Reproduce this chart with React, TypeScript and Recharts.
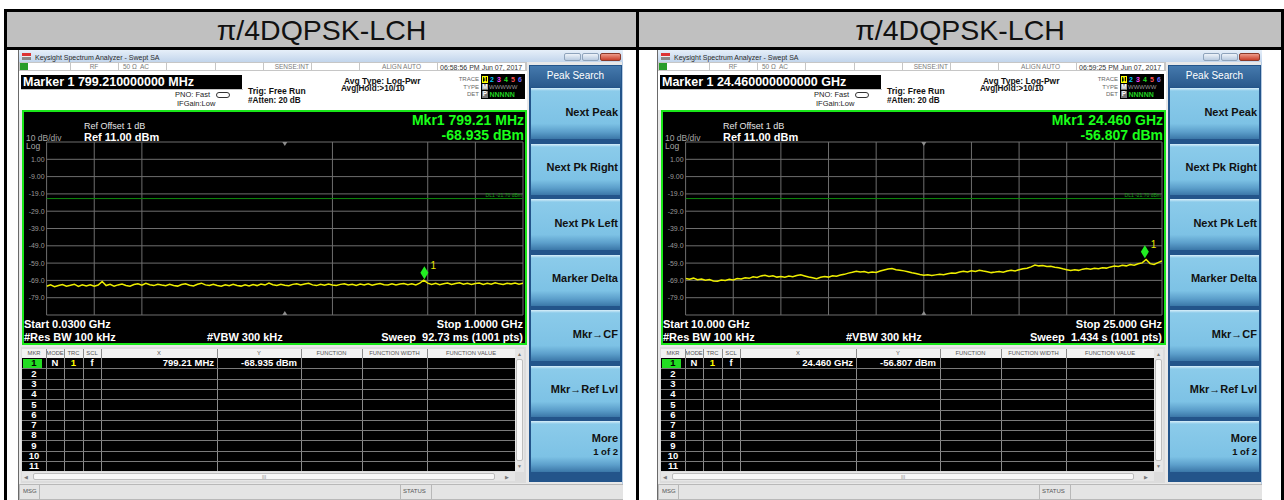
import React from "react";
import {
  LineChart,
  Line,
  XAxis,
  YAxis,
  CartesianGrid,
  ReferenceLine,
  ReferenceDot,
} from "recharts";

// ---- data ----
const titles = ["π/4DQPSK-LCH", "π/4DQPSK-LCH"];

const refLevel = 11;
const bottomLevel = -89;
const yTicks = [11, 1, -9, -19, -29, -39, -49, -59, -69, -79, -89];
const displayLine = -21.7;

const leftStart = 0.03; // GHz
const leftStop = 1.0;
const leftTrace = [
  -72.4, -71.6, -72.6, -71.9, -71.4, -72.3, -71.8, -71.2, -72.5, -71.6,
  -72.2, -71.5, -72.4, -71.7, -69.6, -72.0, -71.3, -72.3, -71.6, -71.1,
  -71.9, -72.4, -71.4, -71.0, -71.8, -70.7, -71.5, -72.0, -71.2, -71.7,
  -72.1, -71.3, -71.9, -72.3, -71.4, -71.0, -71.8, -72.2, -71.2, -70.6,
  -71.6, -72.0, -71.3, -71.9, -72.4, -71.5, -72.1, -71.3, -71.9, -72.3,
  -71.6, -72.2, -71.4, -72.0, -71.1, -71.7, -70.5, -71.5, -71.9, -71.2,
  -71.8, -72.1, -71.3, -71.0, -71.7, -71.1, -70.7, -71.6, -72.0, -71.2,
  -71.8, -71.1, -71.6, -72.0, -71.3, -70.9, -71.7, -71.2, -71.9, -71.1,
  -71.6, -71.0, -71.8, -71.2, -70.8, -71.5, -71.7, -71.0, -71.6, -71.1,
  -70.8, -71.5, -71.0, -71.6, -70.6, -68.9, -70.6, -71.3, -70.7, -71.5,
  -70.9, -70.5, -71.4, -70.8, -70.4, -71.2, -70.7, -71.4, -70.8, -70.5,
  -71.3, -70.7, -71.2, -70.4, -71.0, -71.4, -70.6, -71.1, -70.5, -71.2, -70.7,
];
const leftMarker = { f: 0.79921, v: -68.935 };

const rightStart = 10; // GHz
const rightStop = 25;
const rightTrace = [
  -67.9, -68.3, -67.7, -68.6, -68.2, -68.9, -68.5, -69.3, -69.5, -68.8,
  -69.1, -68.4, -68.7, -67.9, -68.2, -67.5, -67.8, -66.9, -67.3, -66.4,
  -66.0, -66.7, -66.3, -67.1, -66.8, -67.2, -66.5, -66.9, -66.2, -65.8,
  -66.4, -67.0, -67.5, -68.0, -67.2, -66.8, -67.1, -66.3, -66.6, -65.9,
  -65.5, -64.8, -64.3, -63.7, -64.2, -63.9, -64.5, -64.1, -64.4, -63.6,
  -63.0, -62.4, -62.1, -62.8, -63.1, -63.5, -64.0, -64.6, -65.0, -65.6,
  -66.0, -65.7, -66.2, -65.8, -65.4, -65.7, -65.1, -64.7, -64.9, -64.2,
  -63.7, -64.1, -63.5, -63.9, -63.1, -63.6, -64.0, -64.5, -64.2, -63.8,
  -64.3, -63.6, -63.1, -63.5, -62.8, -62.3, -62.0, -61.2, -60.1, -60.6,
  -60.4, -61.0, -60.8, -61.4, -61.7, -62.3, -62.8, -63.3, -62.9, -63.2,
  -62.5, -62.1, -62.6, -62.0, -62.3, -61.7, -61.9, -61.2, -60.7, -61.0,
  -60.3, -60.6, -59.8, -60.2, -59.4, -58.9, -56.9, -59.3, -59.8, -58.7, -57.8,
];
const rightMarker = { f: 24.46, v: -56.807 };

const softkeys = [
  "Next Peak",
  "Next Pk Right",
  "Next Pk Left",
  "Marker Delta",
  "Mkr→CF",
  "Mkr→Ref Lvl",
];
const tableHeaders = ["MKR", "MODE", "TRC", "SCL", "X", "Y", "FUNCTION", "FUNCTION WIDTH", "FUNCTION VALUE"];
const tableCols = [3, 27, 45, 64, 82, 198, 282, 343, 408, 496];
const markerRows = [1, 2, 3, 4, 5, 6, 7, 8, 9, 10, 11];
const traceNums = ["1", "2", "3", "4", "5", "6"];
const traceColors = ["#ffff00", "#00c8ff", "#ff40ff", "#22dd22", "#ff5050", "#6b6bff"];

const FONT = '"Liberation Sans", Arial, sans-serif';

type TP = {
  x: number;
  y: number;
  s: number;
  c?: string;
  b?: boolean;
  a?: "start" | "middle" | "end";
  children: React.ReactNode;
};

function T({ x, y, s, c = "#000", b = false, a = "start", children }: TP) {
  const tx = a === "end" ? "-100%" : a === "middle" ? "-50%" : "0";
  return (
    <div
      style={{
        position: "absolute",
        left: x,
        top: y,
        transform: `translate(${tx}, -50%)`,
        fontSize: s,
        lineHeight: 1,
        color: c,
        fontWeight: b ? 700 : 400,
        whiteSpace: "pre",
        fontFamily: FONT,
      }}
    >
      {children}
    </div>
  );
}

function Box({ x, y, w, h, bg, border, r }: any) {
  return (
    <div
      style={{
        position: "absolute",
        left: x,
        top: y,
        width: w,
        height: h,
        background: bg,
        border,
        borderRadius: r,
        boxSizing: "border-box",
      }}
    />
  );
}

const fmtLevel = (v: number) => (Math.abs(v) < 10 ? v.toFixed(2) : v.toFixed(1));

function YTick(props: any) {
  const { x, y, payload } = props;
  const v = payload.value;
  if (v === refLevel || v === bottomLevel) return <g />;
  return (
    <text x={x} y={y} textAnchor="end" dominantBaseline="central" fontSize={7} fill="#9a9a9a" fontFamily={FONT}>
      {fmtLevel(v)}
    </text>
  );
}

function MarkerShape(props: any) {
  const { cx, cy } = props;
  return (
    <g>
      <polygon
        points={`${cx},${cy - 1} ${cx + 4},${cy - 7.5} ${cx},${cy - 14} ${cx - 4},${cy - 7.5}`}
        fill="#22ee22"
      />
      <text x={cx + 6} y={cy - 11} fill="#e8e800" fontSize={10} fontFamily={FONT}>
        1
      </text>
    </g>
  );
}

const TopTri = (p: any) => (
  <polygon points={`${p.cx - 2.5},${p.cy} ${p.cx + 2.5},${p.cy} ${p.cx},${p.cy + 4}`} fill="#8c8c8c" />
);
const BotTri = (p: any) => (
  <polygon points={`${p.cx - 2.5},${p.cy} ${p.cx + 2.5},${p.cy} ${p.cx},${p.cy - 4}`} fill="#8c8c8c" />
);

function DLLabel(p: any) {
  const vb = p.viewBox || {};
  return (
    <text x={vb.x + vb.width - 1} y={vb.y - 1.5} textAnchor="end" fontSize={5} fill="#1aa01a" fontFamily={FONT}>
      DL1 -21.70 dBm
    </text>
  );
}

type ShotProps = {
  left: number;
  time: string;
  markerTitle: string;
  mkrFreq: string;
  mkrAmp: string;
  startLabel: string;
  stopLabel: string;
  sweepLabel: string;
  xValue: string;
  start: number;
  stop: number;
  trace: number[];
  marker: { f: number; v: number };
};

function Shot(p: ShotProps) {
  const data = p.trace.map((v, i) => ({
    f: p.start + (i * (p.stop - p.start)) / (p.trace.length - 1),
    v,
  }));
  const xTicks = Array.from({ length: 11 }, (_, k) => p.start + (k * (p.stop - p.start)) / 10);
  const center = (p.start + p.stop) / 2;
  const rowH = 10.3;

  return (
    <div
      style={{
        position: "absolute",
        left: p.left,
        top: 50,
        width: 605,
        height: 450,
        background: "#e8e8e8",
        overflow: "hidden",
        borderLeft: "1px solid #6a6a6a",
        boxSizing: "border-box",
      }}
    >
      {/* window title bar */}
      <Box x={0} y={0} w={605} h={12} bg="linear-gradient(#e6eff9, #c2d5ec)" />
      <Box x={3} y={3} w={9} h={7} bg="linear-gradient(#d33 0 45%, #eee 45% 60%, #888 60%)" />
      <T x={16} y={6.5} s={7} c="#2b2b2b">Keysight Spectrum Analyzer - Swept SA</T>
      <Box x={545} y={3} w={17} h={8} bg="linear-gradient(#eef3f9,#b9cbe0)" border="1px solid #8ea3bb" r={2} />
      <Box x={563} y={3} w={17} h={8} bg="linear-gradient(#eef3f9,#b9cbe0)" border="1px solid #8ea3bb" r={2} />
      <Box x={581} y={3} w={21} h={8} bg="linear-gradient(#ef9a88,#c8412c)" border="1px solid #8a3a2a" r={2} />
      <Box x={603} y={12} w={2} h={438} bg="#b6cbe2" />

      {/* status row + info area */}
      <Box x={0} y={12} w={508} h={48} bg="#ffffff" />
      <Box x={0} y={12} w={508} h={9} border="1px solid #c6c6c6" />
      {[51, 99, 147, 196, 244, 292, 340, 418, 506].map((cx) => (
        <Box key={cx} x={cx} y={12} w={1} h={9} bg="#c6c6c6" />
      ))}
      <Box x={1} y={13} w={8} h={7} bg="#2a9d2a" />
      <T x={75} y={16.5} s={6.5} c="#7a7a7a" a="middle">RF</T>
      <T x={104} y={16.5} s={6.5} c="#7a7a7a">50 Ω</T>
      <T x={121} y={16.5} s={6.5} c="#7a7a7a">AC</T>
      <T x={290} y={16.5} s={6.5} c="#7a7a7a" a="end">SENSE:INT</T>
      <T x={402} y={16.5} s={6.5} c="#7a7a7a" a="end">ALIGN AUTO</T>
      <T x={421} y={16.5} s={7} c="#333">{p.time}</T>

      <Box x={2} y={25} w={221} h={14} bg="#000" />
      <T x={4} y={32} s={12.5} c="#fff" b>{p.markerTitle}</T>
      <Box x={2} y={39} w={222} h={1} bg="#c6c6c6" />

      <T x={191} y={45} s={7.5} c="#222" a="end">PNO: Fast</T>
      <Box x={197} y={41.5} w={14} h={6} border="1px solid #333" r={3} />
      <T x={158} y={53.5} s={7.5} c="#222">IFGain:Low</T>
      <T x={229} y={41} s={8.5} c="#111" b>Trig: Free Run</T>
      <T x={229} y={51} s={8.2} c="#111" b>#Atten: 20 dB</T>
      <T x={325} y={30.5} s={8.5} c="#111" b>Avg Type: Log-Pwr</T>
      <T x={322} y={39} s={8.2} c="#111" b>Avg|Hold:&gt;10/10</T>

      <T x={460} y={29} s={6} c="#666" a="end">TRACE</T>
      <T x={460} y={36.5} s={6} c="#666" a="end">TYPE</T>
      <T x={460} y={44} s={6} c="#666" a="end">DET</T>
      <Box x={462} y={24} w={44} h={25} bg="#000" />
      <Box x={463} y={25.5} w={6} h={7} border="1px solid #ffff00" />
      {traceNums.map((n, j) => (
        <T key={n} x={466 + j * 7} y={29.2} s={7} c={traceColors[j]} b a="middle">{n}</T>
      ))}
      <Box x={463} y={33.5} w={6} h={6.5} bg="#777" />
      <T x={466} y={36.8} s={6.5} c="#fff" b a="middle">M</T>
      <T x={470} y={36.8} s={6} c="#9a9a9a">WWWWW</T>
      <Box x={463} y={41} w={6} h={6.5} bg="#777" />
      <T x={466} y={44.3} s={6.5} c="#fff" b a="middle">P</T>
      <T x={470.5} y={44.3} s={7} c="#20d020" b>NNNNN</T>

      {/* plot area */}
      <Box x={3} y={60} w={505} h={235} bg="#000" border="2px solid #19e619" />
      <T x={65} y={76} s={9} c="#e6e6e6">Ref Offset 1 dB</T>
      <T x={65} y={86.5} s={11} c="#fff" b>Ref 11.00 dBm</T>
      <T x={7} y={88} s={8.5} c="#a6a6a6">10 dB/div</T>
      <T x={7} y={96} s={8.5} c="#a6a6a6">Log</T>
      <T x={505} y={69.7} s={14} c="#1aff1a" b a="end">{p.mkrFreq}</T>
      <T x={505} y={85.3} s={14} c="#1aff1a" b a="end">{p.mkrAmp}</T>

      <div style={{ position: "absolute", left: 5, top: 88 }}>
        <LineChart width={501} height={181} data={data} margin={{ top: 4, right: 2, bottom: 4, left: 0 }}>
          <CartesianGrid stroke="#6e6e6e" strokeWidth={1} />
          <XAxis dataKey="f" type="number" domain={[p.start, p.stop]} ticks={xTicks} hide allowDataOverflow />
          <YAxis
            type="number"
            domain={[bottomLevel, refLevel]}
            ticks={yTicks}
            interval={0}
            width={22.6}
            tickSize={0}
            tickMargin={2}
            axisLine={false}
            tickLine={false}
            tick={YTick}
            allowDataOverflow
          />
          <ReferenceLine y={displayLine} stroke="#0e8a0e" strokeWidth={1} label={DLLabel} />
          <Line
            type="linear"
            dataKey="v"
            stroke="#eeee00"
            strokeWidth={1.5}
            dot={false}
            isAnimationActive={false}
          />
          <ReferenceDot x={center} y={refLevel} r={0} shape={TopTri} />
          <ReferenceDot x={center} y={bottomLevel} r={0} shape={BotTri} />
          <ReferenceDot x={p.marker.f} y={p.marker.v} r={0} shape={MarkerShape} />
        </LineChart>
      </div>

      <T x={5} y={274} s={11} c="#fff" b>{p.startLabel}</T>
      <T x={504} y={274} s={11} c="#fff" b a="end">{p.stopLabel}</T>
      <T x={5} y={287} s={11} c="#fff" b>#Res BW 100 kHz</T>
      <T x={188} y={287} s={11} c="#fff" b>#VBW 300 kHz</T>
      <T x={504} y={287} s={11} c="#fff" b a="end">{p.sweepLabel}</T>

      {/* softkey panel */}
      <Box x={510} y={15} w={93} h={417} bg="#23548a" />
      <Box x={511} y={16} w={91} h={21} bg="linear-gradient(#4579ad, #29598c)" />
      <T x={556.5} y={26} s={10} c="#fff" a="middle">Peak Search</T>
      {[...softkeys, "More"].map((k, i) => {
        const top = 38 + i * 55.5;
        return (
          <React.Fragment key={k}>
            <Box
              x={512}
              y={top}
              w={89}
              h={51}
              bg="linear-gradient(#d8eef9 0px, #8bcbea 3px, #7dc2e5 70%, #5c9fcb 86%, #3b77a8 100%)"
            />
            {k === "More" ? (
              <>
                <T x={599} y={top + 17} s={11} c="#111" b a="end">More</T>
                <T x={599} y={top + 31} s={9.5} c="#111" b a="end">1 of 2</T>
              </>
            ) : (
              <T x={599} y={top + 23.5} s={11} c="#111" b a="end">{k}</T>
            )}
          </React.Fragment>
        );
      })}

      {/* marker table */}
      <Box x={2} y={297} w={505} h={136} bg="#dcdcdc" />
      <Box x={3} y={299} w={493} h={9} bg="#f2f2f2" />
      {tableHeaders.map((h, i) => (
        <T key={h} x={(tableCols[i] + tableCols[i + 1]) / 2} y={303.7} s={5.8} c="#555" a="middle">{h}</T>
      ))}
      <Box x={3} y={308} w={493} h={rowH * 11} bg="#000" />
      {tableCols.slice(1, 9).map((cx) => (
        <Box key={cx} x={cx} y={299} w={1} h={9 + rowH * 11} bg="#8a8a8a" />
      ))}
      {markerRows.slice(1).map((r) => (
        <Box key={r} x={3} y={308 + (r - 1) * rowH} w={493} h={1} bg="#7a7a7a" />
      ))}
      <Box x={4} y={309} w={19} h={rowH - 1} bg="#22dd22" />
      {markerRows.map((r) => (
        <T key={r} x={15} y={313.3 + (r - 1) * rowH} s={9.5} c={r === 1 ? "#000" : "#fff"} b a="middle">{r}</T>
      ))}
      <T x={36} y={313.3} s={9.5} c="#fff" b a="middle">N</T>
      <T x={54.5} y={313.3} s={9.5} c="#ffff00" b a="middle">1</T>
      <T x={73} y={313.3} s={9.5} c="#fff" b a="middle">f</T>
      <T x={195} y={313.3} s={9.5} c="#fff" b a="end">{p.xValue}</T>
      <T x={278} y={313.3} s={9.5} c="#fff" b a="end">{p.mkrAmp}</T>

      <Box x={496} y={299} w={9} h={123} bg="#e6e6e6" />
      <Box x={497} y={309} w={7} h={102} bg="#f8f8f8" border="1px solid #bdbdbd" r={2} />
      <T x={500.5} y={303.5} s={5} c="#777" a="middle">▲</T>
      <T x={500.5} y={416} s={5} c="#777" a="middle">▼</T>
      <Box x={3} y={422} w={493} h={9} bg="#e6e6e6" />
      <Box x={14} y={423} w={462} h={7} bg="#f8f8f8" border="1px solid #bdbdbd" r={2} />
      <T x={7} y={426.5} s={5} c="#777" a="middle">◀</T>
      <T x={488} y={426.5} s={5} c="#777" a="middle">▶</T>
      <T x={245} y={426.5} s={5} c="#888" a="middle">III</T>

      {/* bottom status bar */}
      <Box x={0} y={434} w={605} h={16} bg="#e4e4e4" border="1px solid #b8b8b8" />
      <T x={4} y={441} s={6} c="#555">MSG</T>
      <Box x={20} y={434} w={1} h={16} bg="#b8b8b8" />
      <Box x={381} y={434} w={1} h={16} bg="#b8b8b8" />
      <T x={384} y={441} s={6} c="#555">STATUS</T>
      <Box x={412} y={434} w={1} h={16} bg="#b8b8b8" />
    </div>
  );
}

export default function App() {
  return (
    <div
      style={{
        position: "fixed",
        left: 0,
        top: 0,
        width: 1284,
        height: 500,
        background: "#fff",
        overflow: "hidden",
        fontFamily: FONT,
      }}
    >
      {/* table header cells */}
      <Box x={7} y={12} w={629} h={35} bg="#c0c0c0" />
      <Box x={639} y={12} w={642} h={35} bg="#c0c0c0" />
      <Box x={4} y={9} w={1280} h={3} bg="#000" />
      <Box x={4} y={47} w={1280} h={3} bg="#000" />
      <Box x={4} y={9} w={3} h={491} bg="#000" />
      <Box x={636} y={9} w={3} h={491} bg="#000" />
      <Box x={1281} y={9} w={3} h={491} bg="#000" />
      <T x={321.5} y={30} s={28.5} c="#111" a="middle">{titles[0]}</T>
      <T x={960} y={30} s={28.5} c="#111" a="middle">{titles[1]}</T>

      <Shot
        left={18}
        time="06:58:56 PM Jun 07, 2017"
        markerTitle="Marker 1 799.210000000 MHz"
        mkrFreq="Mkr1 799.21 MHz"
        mkrAmp="-68.935 dBm"
        startLabel="Start 0.0300 GHz"
        stopLabel="Stop 1.0000 GHz"
        sweepLabel="Sweep  92.73 ms (1001 pts)"
        xValue="799.21 MHz"
        start={leftStart}
        stop={leftStop}
        trace={leftTrace}
        marker={leftMarker}
      />
      <Shot
        left={657}
        time="06:59:25 PM Jun 07, 2017"
        markerTitle="Marker 1 24.460000000000 GHz"
        mkrFreq="Mkr1 24.460 GHz"
        mkrAmp="-56.807 dBm"
        startLabel="Start 10.000 GHz"
        stopLabel="Stop 25.000 GHz"
        sweepLabel="Sweep  1.434 s (1001 pts)"
        xValue="24.460 GHz"
        start={rightStart}
        stop={rightStop}
        trace={rightTrace}
        marker={rightMarker}
      />
    </div>
  );
}
